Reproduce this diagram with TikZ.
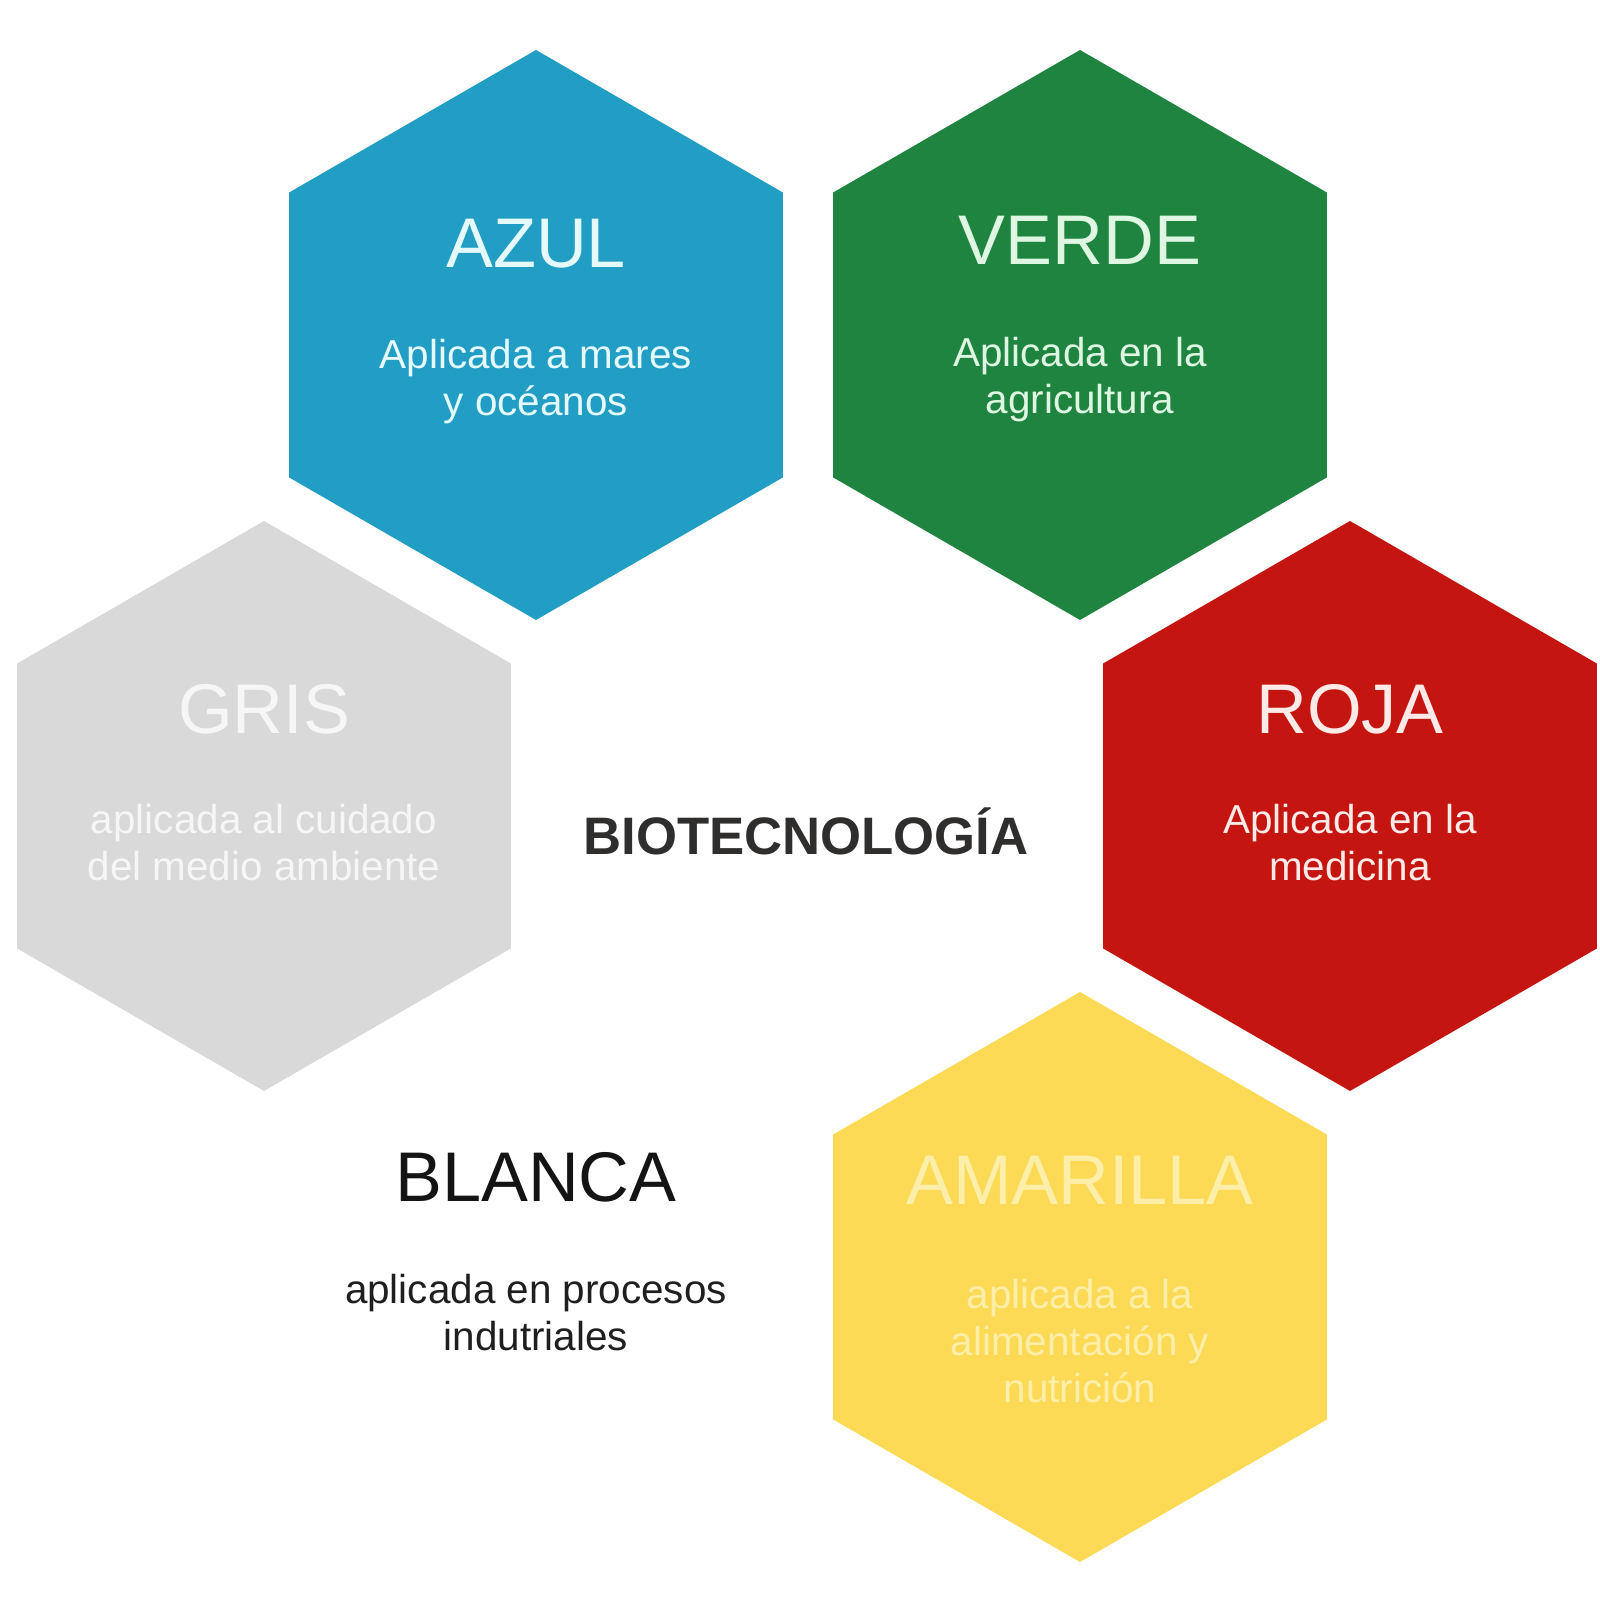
\documentclass[tikz,border=0pt]{standalone}
\usepackage{fontspec}
\setmainfont{Liberation Sans}
\usetikzlibrary{shapes.geometric,positioning}

\definecolor{azul}{RGB}{34,157,196}
\definecolor{verde}{RGB}{31,132,64}
\definecolor{roja}{RGB}{196,21,16}
\definecolor{gris}{RGB}{217,217,217}
\definecolor{amarilla}{RGB}{252,218,86}
\definecolor{textoazul}{RGB}{228,250,255}
\definecolor{textoverde}{RGB}{222,246,226}
\definecolor{textoroja}{RGB}{255,234,232}
\definecolor{textogris}{RGB}{246,246,246}
\definecolor{textoamarilla}{RGB}{253,238,170}
\definecolor{oscuro}{RGB}{48,46,44}

\begin{document}
\begin{tikzpicture}[
  hexa/.style={regular polygon, regular polygon sides=6, shape border rotate=30,
    minimum size=5.70cm, inner sep=0pt, outer sep=0pt},
  titulo/.style={font=\fontsize{20}{24}\selectfont, inner sep=0pt},
  texto/.style={font=\fontsize{11.5}{13.3}\selectfont, align=center, anchor=north, inner sep=0pt}]
  \useasboundingbox[fill=white] (0,0) rectangle (16,16);

  \coordinate (nucleo) at (8.08,7.94);
  \node[font=\bfseries\fontsize{15}{18}\selectfont, text=oscuro] (bio) at (8.06,7.69) {BIOTECNOLOGÍA};

  \node[hexa, fill=azul] (azul) at ([shift={(-2.72,4.71)}]nucleo) {};
  \node[hexa, fill=verde] (verde) at ([shift={(2.72,4.71)}]nucleo) {};
  \node[hexa, fill=roja] (roja) at ([shift={(5.42,0)}]nucleo) {};
  \node[hexa, fill=amarilla] (amarilla) at ([shift={(2.72,-4.71)}]nucleo) {};
  \node[hexa] (blanca) at ([shift={(-2.72,-4.71)}]nucleo) {};
  \node[hexa, fill=gris] (gris) at ([shift={(-5.44,0)}]nucleo) {};

  \node[titulo, text=textoazul] (t_azul) at ([yshift=0.91cm]azul.center) {AZUL};
  \node[texto, text=textoazul] (s_azul) at ([yshift=-0.04cm]azul.center) {Aplicada a mares\\y océanos};

  \node[titulo, text=textoverde] (t_verde) at ([yshift=0.95cm]verde.center) {VERDE};
  \node[texto, text=textoverde] (s_verde) at ([yshift=-0.02cm]verde.center) {Aplicada en la\\agricultura};

  \node[titulo, text=textoroja] (t_roja) at ([yshift=0.97cm]roja.center) {ROJA};
  \node[texto, text=textoroja] (s_roja) at ([yshift=0.02cm]roja.center) {Aplicada en la\\medicina};

  \node[titulo, text=textoamarilla] (t_amarilla) at ([yshift=0.97cm]amarilla.center) {AMARILLA};
  \node[texto, text=textoamarilla] (s_amarilla) at ([yshift=-0.02cm]amarilla.center) {aplicada a la\\alimentación y\\nutrición};

  \node[titulo, text=black!92] (t_blanca) at ([yshift=1cm]blanca.center) {BLANCA};
  \node[texto, text=black!88] (s_blanca) at ([yshift=0.03cm]blanca.center) {aplicada en procesos\\indutriales};

  \node[titulo, text=textogris] (t_gris) at ([yshift=0.97cm]gris.center) {GRIS};
  \node[texto, text=textogris] (s_gris) at ([yshift=0.02cm]gris.center) {aplicada al cuidado\\del medio ambiente};
\end{tikzpicture}
\end{document}
